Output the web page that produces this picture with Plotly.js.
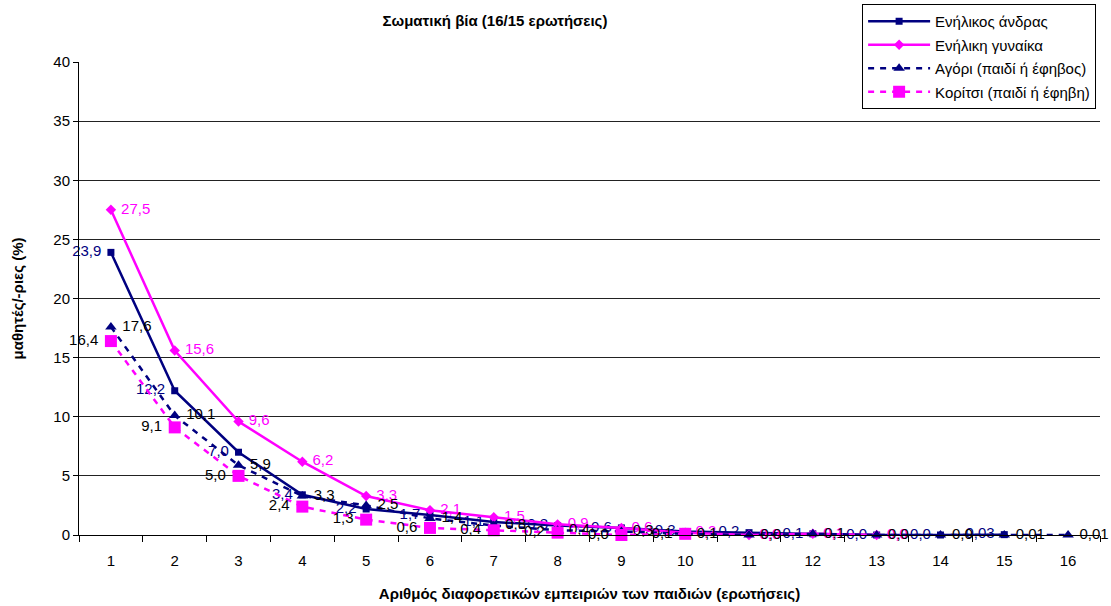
<!DOCTYPE html>
<html>
<head>
<meta charset="utf-8">
<script src="https://cdn.plot.ly/plotly-3.0.1.min.js"></script>
<style>html,body{margin:0;padding:0;background:#fff;}#chart{width:1111px;height:606px;}</style>
</head>
<body>
<div id="chart"></div>
<script>
const categories = ['1','2','3','4','5','6','7','8','9','10','11','12','13','14','15','16'];
const menValues   = [23.9, 12.2, 7.0, 3.4, 2.2, 1.7, 1.1, 0.8, 0.6, 0.3, 0.2, 0.1, 0.0, 0.0, 0.03];
const womenValues = [27.5, 15.6, 9.6, 6.2, 3.3, 2.1, 1.5, 0.9, 0.6, 0.2, 0.0, 0.1, 0.0];
const boyValues   = [17.6, 10.1, 5.9, 3.3, 2.5, 1.4, 0.8, 0.4, 0.3, 0.1, 0.0, 0.1, 0.0, 0.0, 0.01, 0.01];
const girlValues  = [16.4, 9.1, 5.0, 2.4, 1.3, 0.6, 0.4, 0.2, 0.0, 0.1];
const seriesNames = ['Ενήλικος άνδρας', 'Ενήλικη γυναίκα', 'Αγόρι (παιδί ή έφηβος)', 'Κορίτσι (παιδί ή έφηβη)'];
const yTicks = [0, 5, 10, 15, 20, 25, 30, 35];
const yTopTick = [40];

const NAVY = '#000080', MAG = '#FF00FF';
const FONT = 'Liberation Sans, Arial, sans-serif';
const PAD = '\u00a0';

function fmt(v, side){
  const d = (v > 0 && v < 0.05) ? 2 : 1;
  const s = v.toFixed(d).replace('.', ',');
  return side === 'left' ? s + PAD : PAD + s;
}
function mk(name, vals, color, dash, symbol, msize, side, textcolor, group){
  return {
    type: 'scatter', mode: 'lines+markers+text', name: name,
    x: categories.slice(0, vals.length), y: vals,
    text: vals.map(v => fmt(v, side)), textposition: 'middle ' + side,
    textfont: {family: FONT, size: 15, color: textcolor},
    line: {color: color, width: 2.5, dash: dash},
    marker: {symbol: symbol, size: msize, color: color},
    legendgroup: group, hoverinfo: 'skip', cliponaxis: false
  };
}
const traces = [
  mk(seriesNames[0], menValues, NAVY, 'solid', 'square', 7, 'left', NAVY, 'a'),
  mk(seriesNames[1], womenValues, MAG, 'solid', 'diamond', 8, 'right', MAG, 'b'),
  mk(seriesNames[2], boyValues, NAVY, '6px,6px', 'triangle-up', 10, 'right', '#000', 'c'),
  mk(seriesNames[3], girlValues, MAG, '6px,6px', 'square', 12, 'left', '#000', 'd'),
  {type:'scatter', mode:'markers', x:[categories[0]], y:[null], yaxis:'y2', showlegend:false, hoverinfo:'skip'}
];

const layout = {
  width: 1111, height: 606,
  margin: {l: 79, r: 11, t: 62, b: 71, autoexpand: false},
  paper_bgcolor: '#fff', plot_bgcolor: '#fff',
  font: {family: FONT, size: 15, color: '#000'},
  title: {text: '<b>Σωματική βία (16/15 ερωτήσεις)</b>', font: {family: FONT, size: 15, color: '#000'},
          xref: 'container', x: 0.4455, xanchor: 'center', yref: 'container', y: 0.965, yanchor: 'middle'},
  showlegend: true,
  legend: {x: 0.767, y: 1.1226, xanchor: 'left', yanchor: 'top', xref: 'paper', yref: 'paper',
           bgcolor: '#fff', bordercolor: '#000', borderwidth: 1,
           font: {family: FONT, size: 15, color: '#000'},
           traceorder: 'grouped', tracegroupgap: 1, itemwidth: 62},
  xaxis: {type: 'category', categoryorder: 'array', categoryarray: categories, range: [-0.5, 15.5],
          tickson: 'boundaries', ticks: 'outside', ticklen: 6, tickcolor: '#000',
          showline: true, linecolor: '#000', linewidth: 1, showgrid: false, zeroline: false,
          ticklabelstandoff: 12, tickfont: {family: FONT, size: 15, color: '#000'},
          title: {text: '<b>Αριθμός διαφορετικών εμπειριών των παιδιών (ερωτήσεις)</b>',
                  font: {family: FONT, size: 15, color: '#000'}, standoff: 20}},
  yaxis: {range: [0, 40], tickvals: yTicks, ticks: 'outside', ticklen: 5, tickcolor: '#000',
          showline: true, linecolor: '#000', linewidth: 1, showgrid: true, gridcolor: '#222', gridwidth: 1,
          zeroline: false, tickfont: {family: FONT, size: 15, color: '#000'},
          title: {text: '<b>μαθητές/-ριες (%)</b>', font: {family: FONT, size: 15, color: '#000'}, standoff: 26}},
  yaxis2: {overlaying: 'y', side: 'left', range: [0, 40], tickvals: yTopTick, ticks: 'outside', ticklen: 5,
           tickcolor: '#000', showline: false, showgrid: true, gridcolor: '#c8c8c8', zeroline: false,
           tickfont: {family: FONT, size: 15, color: '#000'}}
};

Plotly.newPlot('chart', traces, layout, {displayModeBar: false, staticPlot: true});
</script>
</body>
</html>
